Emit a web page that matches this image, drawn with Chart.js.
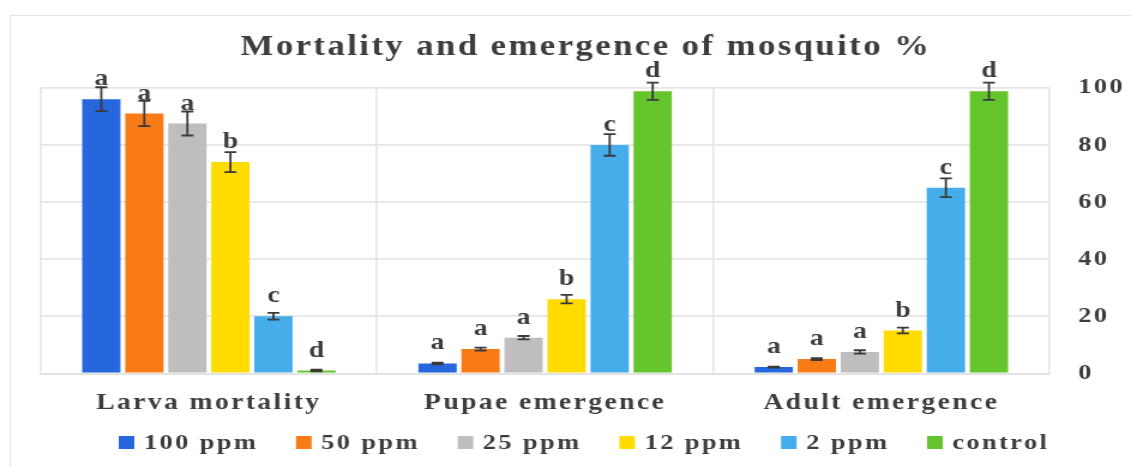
<!DOCTYPE html>
<html>
<head>
<meta charset="utf-8">
<script src="https://cdn.jsdelivr.net/npm/chart.js@4/dist/chart.umd.min.js"></script>
<style>
  html, body { margin: 0; padding: 0; background: #fff; }
  canvas { display: block; }
</style>
</head>
<body>
<!-- the original figure is stretched sideways, so the canvas is drawn narrower and widened -->
<canvas id="mosquito-chart" width="943" height="466" style="width: 1131px; height: 466px;"></canvas>
<script>
// Mortality and emergence of mosquito %
const categories = ['Larva mortality', 'Pupae emergence', 'Adult emergence'];
const seriesNames = ['100 ppm', '50 ppm', '25 ppm', '12 ppm', '2 ppm', 'control'];
const seriesColors = ['#2767dd', '#f97b17', '#bebebe', '#ffdb00', '#44adea', '#64c62c'];

// values per series (larva, pupae, adult)
const ppm100 = [96, 3.5, 2.2];
const ppm50 = [91, 8.5, 5];
const ppm25 = [87.5, 12.5, 7.5];
const ppm12 = [74, 26, 15];
const ppm2 = [20, 80, 65];
const control = [1, 98.8, 98.8];

// error bars (+/-)
const err100 = [4.2, 0.3, 0.2];
const err50 = [4.4, 0.5, 0.3];
const err25 = [4.2, 0.6, 0.6];
const err12 = [3.5, 1.5, 1];
const err2 = [1.2, 3.8, 3.3];
const errControl = [0.3, 3, 3];

// significance letters
const letters100 = ['a', 'a', 'a'];
const letters50 = ['a', 'a', 'a'];
const letters25 = ['a', 'a', 'a'];
const letters12 = ['b', 'b', 'b'];
const letters2 = ['c', 'c', 'c'];
const lettersControl = ['d', 'd', 'd'];

const yTicks = [0, 20, 40, 60, 80, 100];

const seriesValues = [ppm100, ppm50, ppm25, ppm12, ppm2, control];
const seriesErrors = [err100, err50, err25, err12, err2, errControl];
const seriesLetters = [letters100, letters50, letters25, letters12, letters2, lettersControl];

const FONT = "'Liberation Serif', 'Times New Roman', serif";
const TEXT_COLOR = '#3d3d3d';
const SPACING = '2px';

// canvas letter spacing resets whenever the canvas is sized, so set it on each pass
const spacingPlugin = {
  id: 'spacing',
  beforeUpdate(chart) { chart.ctx.letterSpacing = SPACING; },
  beforeDraw(chart) { chart.ctx.letterSpacing = SPACING; }
};

// outer frame of the figure
const framePlugin = {
  id: 'frame',
  beforeDraw(chart) {
    const ctx = chart.ctx;
    ctx.save();
    ctx.strokeStyle = '#e3e3e3';
    ctx.lineWidth = 1;
    ctx.strokeRect(8.5, 15.5, chart.width + 20, chart.height + 20);
    ctx.restore();
  }
};

// error bars and letters above each bar
const errorBarPlugin = {
  id: 'errorBars',
  afterDatasetsDraw(chart) {
    const ctx = chart.ctx;
    const y = chart.scales.y;
    ctx.save();
    chart.data.datasets.forEach((ds, i) => {
      const meta = chart.getDatasetMeta(i);
      meta.data.forEach((bar, j) => {
        const v = ds.data[j];
        const e = seriesErrors[i][j];
        const yTop = y.getPixelForValue(v + e);
        const yBot = y.getPixelForValue(v - e);
        const x = bar.x;
        ctx.strokeStyle = '#3a3a3a';
        ctx.lineWidth = 1.8;
        ctx.beginPath();
        ctx.moveTo(x, yTop); ctx.lineTo(x, yBot);
        ctx.moveTo(x - 5, yTop); ctx.lineTo(x + 5, yTop);
        ctx.moveTo(x - 5, yBot); ctx.lineTo(x + 5, yBot);
        ctx.stroke();

        ctx.letterSpacing = '0px';
        ctx.fillStyle = TEXT_COLOR;
        ctx.font = 'bold 23px ' + FONT;
        ctx.textAlign = 'center';
        ctx.textBaseline = 'alphabetic';
        ctx.fillText(seriesLetters[i][j], x, bar.y - 14);
      });
    });
    ctx.restore();
    ctx.letterSpacing = SPACING;
  }
};

// legend row under the axis labels
const legendPlugin = {
  id: 'rowLegend',
  afterDraw(chart) {
    const ctx = chart.ctx;
    const area = chart.chartArea;
    let x = area.left + 65;
    const yc = chart.height - 24;
    ctx.save();
    ctx.letterSpacing = SPACING;
    ctx.font = 'bold 22px ' + FONT;
    ctx.textAlign = 'left';
    ctx.textBaseline = 'middle';
    chart.data.datasets.forEach((ds) => {
      ctx.fillStyle = ds.backgroundColor;
      ctx.fillRect(x, yc - 6, 13, 13);
      ctx.fillStyle = TEXT_COLOR;
      ctx.fillText(ds.label, x + 21, yc + 1);
      x += 21 + ctx.measureText(ds.label).width + 31.5;
    });
    ctx.restore();
  }
};

new Chart(document.getElementById('mosquito-chart'), {
  type: 'bar',
  data: {
    labels: categories,
    datasets: seriesNames.map((name, i) => ({
      label: name,
      data: seriesValues[i],
      backgroundColor: seriesColors[i],
      borderColor: seriesColors[i],
      borderWidth: 0,
      categoryPercentage: 0.768,
      barPercentage: 0.89
    }))
  },
  options: {
    responsive: false,
    animation: false,
    layout: {
      padding: { left: 34, right: 0, top: 0, bottom: 33 }
    },
    plugins: {
      title: {
        display: true,
        text: 'Mortality and emergence of mosquito %',
        color: TEXT_COLOR,
        font: { family: FONT, size: 29, weight: 'bold' },
        padding: { top: 30, bottom: 23 }
      },
      legend: { display: false },
      tooltip: { enabled: false }
    },
    scales: {
      x: {
        grid: {
          color: '#e6e6e6',
          lineWidth: 1.7,
          drawTicks: false,
          offset: true
        },
        border: { color: '#e2e2e2', width: 1.7 },
        ticks: {
          color: TEXT_COLOR,
          padding: 16,
          font: { family: FONT, size: 23, weight: 'bold' }
        }
      },
      y: {
        position: 'right',
        min: 0,
        max: 100,
        afterBuildTicks: (scale) => {
          scale.ticks = yTicks.map(v => ({ value: v }));
        },
        afterFit: (scale) => { scale.width = 68; },
        grid: {
          color: '#e6e6e6',
          lineWidth: 1.7,
          drawTicks: false
        },
        border: { display: false },
        ticks: {
          color: TEXT_COLOR,
          padding: 24,
          font: { family: FONT, size: 22, weight: 'bold' }
        }
      }
    }
  },
  plugins: [spacingPlugin, framePlugin, errorBarPlugin, legendPlugin]
});
</script>
</body>
</html>
